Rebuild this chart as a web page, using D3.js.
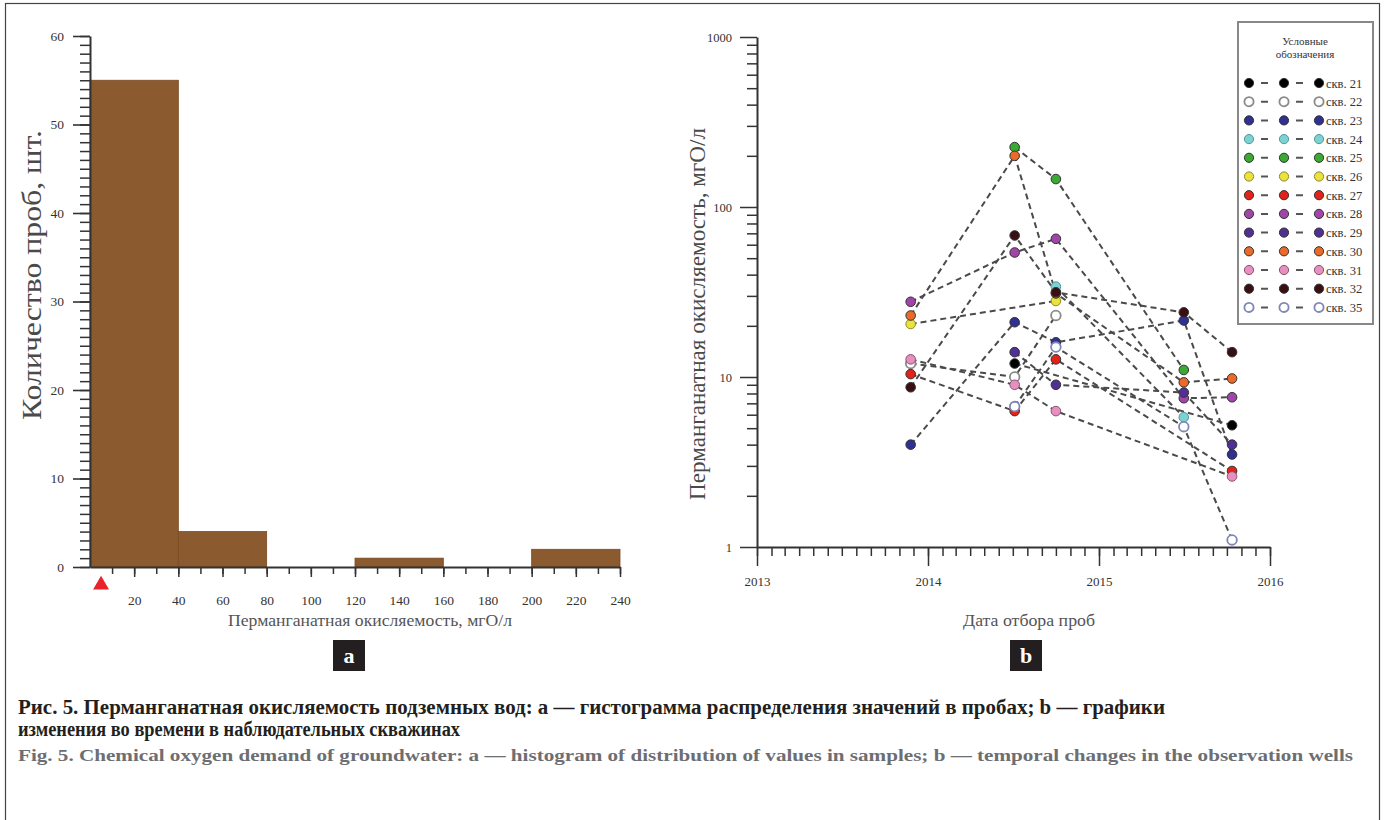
<!DOCTYPE html>
<html>
<head>
<meta charset="utf-8">
<script src="https://cdn.jsdelivr.net/npm/d3@7/dist/d3.min.js"></script>
<style>
    body { margin: 0; background: #fff; }
    svg text { font-family: "Liberation Serif", "Times New Roman", serif; }
    .axis path, .axis line { stroke: #333; }
    .axis text { fill: #333; }
</style>
</head>
<body>
<svg id="fig" width="1384" height="820"></svg>
<script>
// ---- panel a: histogram ----
var binEdges = [0, 40, 80, 120, 160, 200, 240];
var binCounts = [55, 4, 0, 1, 0, 2];
var histXTicks = [20, 40, 60, 80, 100, 120, 140, 160, 180, 200, 220, 240];
var histYTicks = [0, 10, 20, 30, 40, 50, 60];
var mpcValue = 5;

// ---- panel b: wells ----
var sampleDates = ['2013-11-25', '2014-07-05', '2014-10-01', '2015-07-01', '2015-10-12'];
var wellNames = ['скв. 21', 'скв. 22', 'скв. 23', 'скв. 24', 'скв. 25', 'скв. 26', 'скв. 27',
    'скв. 28', 'скв. 29', 'скв. 30', 'скв. 31', 'скв. 32', 'скв. 35'];
var wellFills = ['#000000', '#ffffff', '#2e3192', '#7fd0d0', '#3aaa35', '#ebe23a', '#e2231a',
    '#a046a8', '#503092', '#ea6a2a', '#e690c0', '#3a0f14', '#ffffff'];
var wellStrokes = ['#333', '#8a8a8a', '#333', '#4a9a9a', '#333', '#8a8a30', '#333',
    '#333', '#333', '#333', '#8a5070', '#333', '#7f86b8'];

var well21 = [null, 12, null, null, 5.2];
var well22 = [12, 10, 23, null, null];
var well23 = [4.0, 21, 16, 21.5, 3.5];
var well24 = [null, null, 34, 5.8, null];
var well25 = [null, 225, 146, 11, null];
var well26 = [20.5, null, 28, null, null];
var well27 = [10.4, 6.3, 12.7, null, 2.8];
var well28 = [27.7, 54, 65, 7.5, 7.6];
var well29 = [null, 14, 9.0, 8.1, 4.0];
var well30 = [23, 200, 31, 9.3, 9.8];
var well31 = [12.7, 9.0, 6.3, null, 2.6];
var well32 = [8.7, 68, 31.5, 24, 14];
var well35 = [null, 6.7, 15, 5.1, 1.1];

var yearTicks = [2013, 2014, 2015, 2016];
var logTicks = [1, 10, 100, 1000];

var wellValues = [well21, well22, well23, well24, well25, well26, well27,
    well28, well29, well30, well31, well32, well35];

var svg = d3.select('#fig');

// frame
svg.append('rect')
    .attr('x', 5.5).attr('y', 3.5)
    .attr('width', 1374).attr('height', 900)
    .attr('fill', 'none').attr('stroke', '#444').attr('stroke-width', 1.2);

// =========== panel a ===========
var hx = d3.scaleLinear().domain([0, 240]).range([90, 620]);
var hy = d3.scaleLinear().domain([0, 60]).range([567, 36]);

var bins = binCounts.map(function(c, i) { return { x0: binEdges[i], x1: binEdges[i + 1], n: c }; });

svg.append('g').selectAll('rect')
    .data(bins.filter(function(d) { return d.n > 0; }))
    .enter().append('rect')
    .attr('x', function(d) { return hx(d.x0); })
    .attr('y', function(d) { return hy(d.n); })
    .attr('width', function(d) { return hx(d.x1) - hx(d.x0); })
    .attr('height', function(d) { return hy(0) - hy(d.n); })
    .attr('fill', '#8b5a2e')
    .attr('stroke', '#7a4a22')
    .attr('stroke-width', 0.8);

// y axis, minor then major
svg.append('g').attr('class', 'axis')
    .attr('transform', 'translate(90,0)')
    .call(d3.axisLeft(hy).tickValues(d3.range(0, 60.1, 1)).tickSize(10).tickSizeOuter(0).tickFormat(''))
    .call(function(g) { g.selectAll('line').attr('stroke-width', 1.5); g.select('.domain').attr('stroke-width', 2); });

svg.append('g').attr('class', 'axis')
    .attr('transform', 'translate(90,0)')
    .call(d3.axisLeft(hy).tickValues(histYTicks).tickSize(17).tickPadding(9).tickSizeOuter(0))
    .call(function(g) {
        g.select('.domain').remove();
        g.selectAll('line').attr('stroke-width', 1.6);
        g.selectAll('text').attr('font-size', 13.5).attr('font-family', 'Liberation Serif');
    });

// x axis
svg.append('g').attr('class', 'axis')
    .attr('transform', 'translate(0,567)')
    .call(d3.axisBottom(hx).tickValues(d3.range(10, 240.1, 10)).tickSize(7).tickSizeOuter(0).tickFormat(''))
    .call(function(g) { g.selectAll('line').attr('stroke-width', 1.5); g.select('.domain').attr('stroke-width', 2); });

svg.append('g').attr('class', 'axis')
    .attr('transform', 'translate(0,567)')
    .call(d3.axisBottom(hx).tickValues(histXTicks).tickSize(10).tickPadding(18).tickSizeOuter(0))
    .call(function(g) {
        g.select('.domain').remove();
        g.selectAll('line').attr('stroke-width', 1.5);
        g.selectAll('text').attr('font-size', 13.5).attr('font-family', 'Liberation Serif');
    });

// MPC marker
svg.append('path')
    .attr('d', d3.symbol(d3.symbolTriangle, 110)())
    .attr('transform', 'translate(' + hx(mpcValue) + ',585)')
    .attr('fill', '#e8232a');

svg.append('text')
    .attr('x', 370).attr('y', 626)
    .attr('text-anchor', 'middle')
    .attr('font-size', 17).attr('fill', '#555')
    .attr('textLength', 284).attr('lengthAdjust', 'spacingAndGlyphs')
    .text('Перманганатная окисляемость, мгО/л');

svg.append('text')
    .attr('transform', 'translate(41,275) rotate(-90)')
    .attr('text-anchor', 'middle')
    .attr('font-size', 27).attr('fill', '#4a4a4a')
    .attr('textLength', 290).attr('lengthAdjust', 'spacingAndGlyphs')
    .text('Количество проб, шт.');

// =========== panel b ===========
var parseDate = d3.timeParse('%Y-%m-%d');
var tx = d3.scaleTime()
    .domain([new Date(yearTicks[0], 0, 1), new Date(yearTicks[yearTicks.length - 1], 0, 1)])
    .range([757, 1270]);
var ly = d3.scaleLog().domain([1, 1000]).range([547, 37]);

var minorLog = [];
[1, 10, 100].forEach(function(b) { for (var k = 2; k <= 9; k++) minorLog.push(b * k); });

svg.append('g').attr('class', 'axis')
    .attr('transform', 'translate(757,0)')
    .call(d3.axisLeft(ly).tickValues(minorLog).tickSize(10).tickSizeOuter(0).tickFormat(''))
    .call(function(g) { g.selectAll('line').attr('stroke-width', 1.5); g.select('.domain').attr('stroke-width', 2); });

svg.append('g').attr('class', 'axis')
    .attr('transform', 'translate(757,0)')
    .call(d3.axisLeft(ly).tickValues(logTicks).tickSize(17).tickPadding(8).tickSizeOuter(0).tickFormat(d3.format('d')))
    .call(function(g) {
        g.select('.domain').remove();
        g.selectAll('line').attr('stroke-width', 1.5);
        g.selectAll('text').attr('font-size', 12.5).attr('font-family', 'Liberation Serif');
    });

svg.append('g').attr('class', 'axis')
    .attr('transform', 'translate(0,547)')
    .call(d3.axisBottom(tx).ticks(d3.timeMonth.every(1)).tickSize(9).tickSizeOuter(0).tickFormat(''))
    .call(function(g) { g.selectAll('line').attr('stroke-width', 1.5); g.select('.domain').attr('stroke-width', 2); });

svg.append('g').attr('class', 'axis')
    .attr('transform', 'translate(0,547)')
    .call(d3.axisBottom(tx).tickValues(yearTicks.map(function(y) { return new Date(y, 0, 1); }))
        .tickSize(19).tickPadding(11).tickSizeOuter(0).tickFormat(d3.timeFormat('%Y')))
    .call(function(g) {
        g.select('.domain').remove();
        g.selectAll('line').attr('stroke-width', 1.5);
        g.selectAll('text').attr('font-size', 13).attr('font-family', 'Liberation Serif');
    });

var series = wellNames.map(function(name, i) {
    return {
        name: name, fill: wellFills[i], stroke: wellStrokes[i],
        pts: wellValues[i].map(function(v, j) { return { t: parseDate(sampleDates[j]), v: v }; })
            .filter(function(p) { return p.v != null; })
    };
});

var line = d3.line().x(function(p) { return tx(p.t); }).y(function(p) { return ly(p.v); });

svg.append('g').selectAll('path')
    .data(series).enter().append('path')
    .attr('d', function(d) { return line(d.pts); })
    .attr('fill', 'none')
    .attr('stroke', '#4a4a4a')
    .attr('stroke-width', 2)
    .attr('stroke-dasharray', '6,4');

var ptG = svg.append('g');
series.forEach(function(s) {
    ptG.selectAll(null).data(s.pts).enter().append('circle')
        .attr('cx', function(p) { return tx(p.t); })
        .attr('cy', function(p) { return ly(p.v); })
        .attr('r', 4.8)
        .attr('fill', s.fill)
        .attr('stroke', s.stroke)
        .attr('stroke-width', s.fill == '#ffffff' ? 1.8 : 1);
});

svg.append('text')
    .attr('x', 1029).attr('y', 626)
    .attr('text-anchor', 'middle')
    .attr('font-size', 17).attr('fill', '#555')
    .attr('textLength', 132).attr('lengthAdjust', 'spacingAndGlyphs')
    .text('Дата отбора проб');

svg.append('text')
    .attr('transform', 'translate(705,314) rotate(-90)')
    .attr('text-anchor', 'middle')
    .attr('font-size', 23).attr('fill', '#4a4a4a')
    .attr('textLength', 372).attr('lengthAdjust', 'spacingAndGlyphs')
    .text('Перманганатная окисляемость, мгО/л');

// legend
var leg = svg.append('g');
leg.append('rect')
    .attr('x', 1238).attr('y', 22).attr('width', 135).attr('height', 302)
    .attr('fill', '#fff').attr('stroke', '#888').attr('stroke-width', 2);
leg.append('text').attr('x', 1305).attr('y', 45).attr('text-anchor', 'middle')
    .attr('font-size', 11).attr('fill', '#333').text('Условные');
leg.append('text').attr('x', 1305).attr('y', 58).attr('text-anchor', 'middle')
    .attr('font-size', 11).attr('fill', '#333').text('обозначения');

var rows = leg.selectAll('g.row').data(series).enter().append('g')
    .attr('class', 'row')
    .attr('transform', function(d, i) { return 'translate(0,' + (83 + i * 18.7) + ')'; });
rows.append('line')
    .attr('x1', 1249).attr('x2', 1319)
    .attr('stroke', '#555').attr('stroke-width', 2)
    .attr('stroke-dasharray', '0,12,7,16,0,12,7,16');
[1249, 1284, 1319].forEach(function(cx) {
    rows.append('circle')
        .attr('cx', cx).attr('cy', 0).attr('r', 4.6)
        .attr('fill', function(d) { return d.fill; })
        .attr('stroke', function(d) { return d.stroke; })
        .attr('stroke-width', function(d) { return d.fill == '#ffffff' ? 1.8 : 1; });
});
rows.append('text')
    .attr('x', 1326).attr('y', 4.5)
    .attr('font-size', 12.5).attr('fill', '#333')
    .text(function(d) { return d.name; });

// panel tags
[{ t: 'a', x: 349 }, { t: 'b', x: 1026 }].forEach(function(p) {
    svg.append('rect').attr('x', p.x - 16).attr('y', 640).attr('width', 32).attr('height', 31).attr('fill', '#231f20');
    svg.append('text').attr('x', p.x).attr('y', 663).attr('text-anchor', 'middle')
        .attr('font-size', 22).attr('font-weight', 'bold').attr('fill', '#fff').text(p.t);
});

// caption
svg.append('text').attr('x', 18).attr('y', 714)
    .attr('font-size', 20).attr('font-weight', 'bold').attr('fill', '#231f20')
    .attr('textLength', 1147).attr('lengthAdjust', 'spacingAndGlyphs')
    .text('Рис. 5. Перманганатная окисляемость подземных вод: а — гистограмма распределения значений в пробах; b — графики');
svg.append('text').attr('x', 18).attr('y', 736)
    .attr('font-size', 20).attr('font-weight', 'bold').attr('fill', '#231f20')
    .attr('textLength', 442).attr('lengthAdjust', 'spacingAndGlyphs')
    .text('изменения во времени в наблюдательных скважинах');
svg.append('text').attr('x', 18).attr('y', 761)
    .attr('font-size', 17).attr('font-weight', 'bold').attr('fill', '#6d6e71')
    .attr('textLength', 1335).attr('lengthAdjust', 'spacingAndGlyphs')
    .text('Fig. 5. Chemical oxygen demand of groundwater: a — histogram of distribution of values in samples; b — temporal changes in the observation wells');
</script>
</body>
</html>
